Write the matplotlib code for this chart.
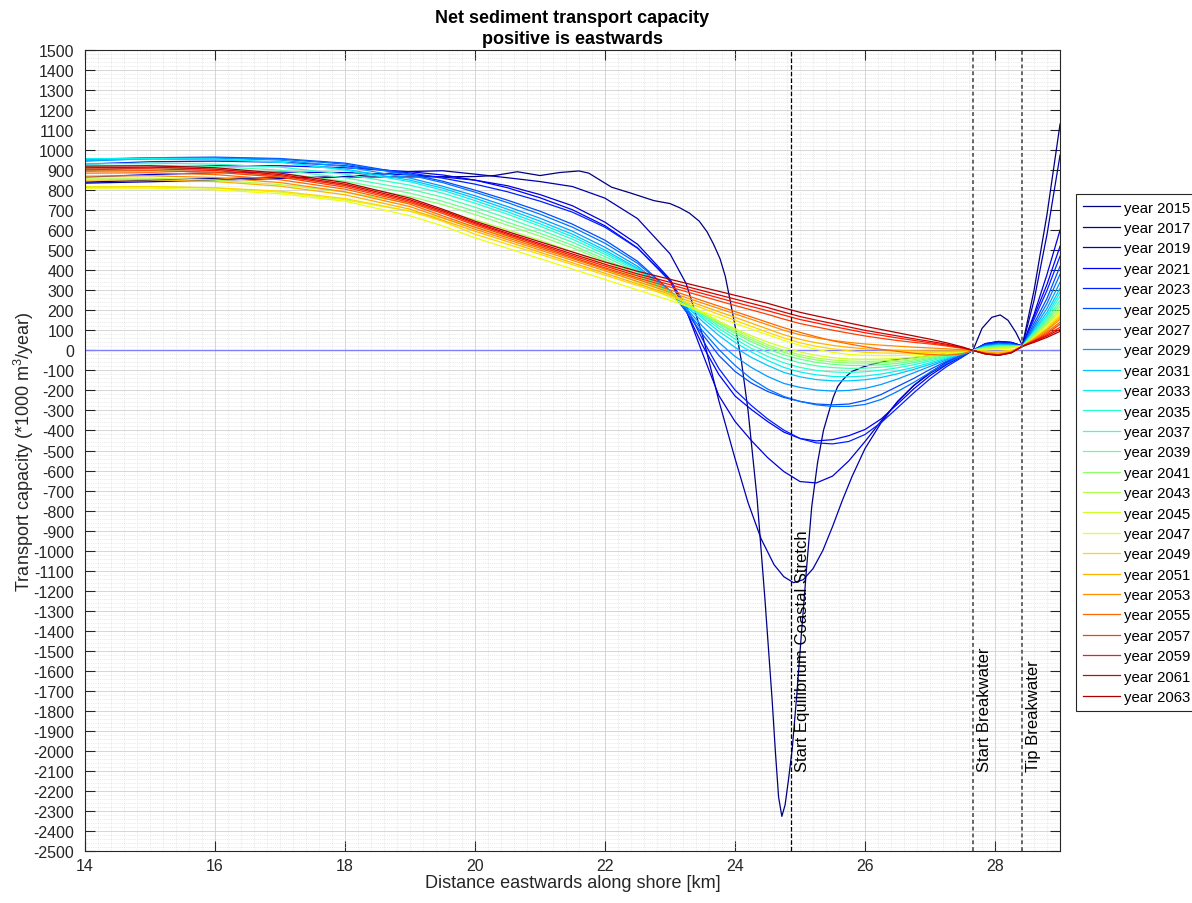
"""Net sediment transport capacity along the shore, one profile every two years."""

import matplotlib

matplotlib.use("Agg")  # headless backend
import matplotlib.pyplot as plt  # noqa: E402
import numpy as np  # noqa: E402
from matplotlib.ticker import MultipleLocator  # noqa: E402

plt.rcParams["font.family"] = ["Liberation Sans", "DejaVu Sans"]
plt.rcParams["axes.unicode_minus"] = False
plt.rcParams["mathtext.fontset"] = "custom"
plt.rcParams["mathtext.rm"] = "Liberation Sans"

YEARS = list(range(2015, 2064, 2))

# Alongshore positions [km] of the initial (2015) profile, which has sharp features
X_2015 = [14, 15, 16, 17, 18, 19, 20, 20.3, 20.65, 21.0, 21.3, 21.6, 21.75, 21.95,
          22.1, 22.4, 22.75, 23.0, 23.15, 23.3, 23.45, 23.57, 23.67, 23.77, 23.85,
          23.92, 24.03, 24.1, 24.2, 24.34, 24.46, 24.57, 24.62, 24.67, 24.72, 24.77,
          24.82, 24.88, 24.95, 25.02, 25.1, 25.18, 25.27, 25.36, 25.45, 25.51, 25.58,
          25.65, 25.72, 25.8, 25.97, 26.1, 26.34, 26.8, 27.2, 27.66,
          27.8, 27.95, 28.08, 28.2, 28.32, 28.42, 28.6, 28.8, 29]
Q_2015 = [840, 850, 858, 862, 866, 866, 868, 873, 892, 873, 888, 896, 885, 845,
          815, 785, 748, 733, 712, 685, 645, 592, 530, 457, 370,
          257, 72, -58, -300, -742, -1242, -1742, -2000, -2230, -2327, -2270,
          -2150, -1990, -1720, -1420, -1090, -780, -560, -400, -300, -235, -180,
          -150, -127, -105, -83, -70, -52, -35, -18, 0,
          110, 165, 177, 150, 90, 25, 300, 680, 1130]

# The 2017 profile, still carrying a deep trough
X_2017 = [14, 15, 16, 17, 18, 18.5, 19, 19.5, 20, 20.5, 21, 21.5, 22, 22.5, 23,
          23.25, 23.5, 23.75, 24, 24.2, 24.4, 24.6, 24.75, 24.9, 25.05, 25.2, 25.35,
          25.5, 25.65, 25.8, 26, 26.25, 26.5, 26.75, 27, 27.25, 27.5, 27.66, 27.85,
          28.05, 28.25, 28.42, 28.6, 28.8, 29]
Q_2017 = [835, 842, 850, 858, 868, 880, 893, 897, 880, 862, 843, 818, 760, 658, 482,
          332, 75, -250, -540, -760, -940, -1070, -1130, -1160, -1145, -1090, -1000,
          -880, -750, -630, -490, -360, -255, -175, -115, -66, -25, 0, 28,
          42, 38, 22, 250, 580, 975]

# Alongshore positions [km] shared by the later profiles
X_KM = [14, 15, 16, 17, 18, 19, 19.5, 20, 20.5, 21, 21.5, 22, 22.5, 23,
        23.25, 23.5, 23.75, 24, 24.25, 24.5, 24.75, 25, 25.25, 25.5, 25.75,
        26, 26.25, 26.5, 26.75, 27, 27.25, 27.5, 27.66, 27.85, 28.05, 28.25,
        28.42, 28.6, 28.8, 29]

# Transport capacity [1000 m3/year] per year on X_KM
Q_2019 = [865, 878, 887, 890, 888, 876, 866, 850, 822, 778,
          722, 640, 530, 355, 200, -15, -225, -355, -450, -535,
          -605, -655, -662, -628, -552, -455, -352, -257, -176, -110,
          -60, -22, 0, 32, 45, 40, 22, 180, 380, 600]
Q_2021 = [900, 913, 922, 922, 912, 892, 876, 850, 812, 762,
          702, 622, 512, 345, 195, 25, -120, -228, -295, -355,
          -408, -440, -452, -446, -426, -395, -342, -268, -192, -126,
          -72, -28, 0, 34, 44, 40, 22, 170, 330, 520]
Q_2023 = [930, 942, 945, 940, 922, 886, 860, 830, 792, 745,
          690, 615, 510, 352, 218, 55, -90, -198, -275, -342,
          -398, -440, -462, -467, -455, -420, -360, -287, -212, -142,
          -82, -33, 0, 33, 42, 38, 22, 155, 300, 470]
Q_2025 = [950, 962, 965, 958, 935, 880, 845, 800, 750, 695,
          630, 550, 445, 298, 192, 80, -25, -105, -163, -205,
          -235, -255, -268, -272, -268, -250, -220, -180, -140, -95,
          -55, -20, 0, 28, 36, 32, 20, 135, 260, 420]
Q_2027 = [945, 958, 962, 955, 930, 875, 838, 790, 738, 680,
          615, 535, 435, 298, 202, 98, 5, -75, -142, -193,
          -230, -255, -272, -280, -280, -270, -245, -205, -160, -110,
          -65, -25, 0, 25, 33, 30, 20, 120, 235, 380]
Q_2029 = [955, 962, 960, 950, 918, 860, 820, 772, 718, 660,
          595, 515, 420, 290, 210, 120, 40, -30, -85, -130,
          -165, -185, -198, -203, -200, -190, -170, -143, -112, -80,
          -48, -18, 0, 22, 30, 27, 20, 110, 210, 340]
Q_2031 = [950, 955, 952, 940, 905, 850, 810, 760, 705, 645,
          580, 500, 410, 290, 220, 145, 75, 15, -35, -75,
          -110, -132, -146, -152, -152, -147, -135, -117, -95, -70,
          -43, -17, 0, 20, 28, 26, 20, 100, 190, 310]
Q_2033 = [957, 958, 955, 940, 900, 842, 800, 748, 692, 632,
          568, 490, 405, 292, 228, 160, 95, 40, -8, -50,
          -85, -108, -122, -130, -132, -128, -118, -103, -85, -62,
          -38, -15, 0, 18, 25, 24, 20, 95, 175, 290]
Q_2035 = [930, 935, 930, 915, 880, 825, 785, 735, 680, 620,
          555, 480, 398, 292, 232, 170, 110, 57, 10, -30,
          -62, -85, -100, -108, -110, -107, -99, -87, -72, -53,
          -33, -13, 0, 16, 22, 22, 20, 90, 165, 270]
Q_2037 = [920, 925, 918, 900, 862, 805, 765, 715, 660, 602,
          540, 468, 390, 290, 235, 178, 122, 72, 28, -10,
          -40, -62, -77, -86, -90, -89, -84, -75, -62, -46,
          -28, -11, 0, 14, 20, 20, 20, 85, 155, 250]
Q_2039 = [910, 912, 905, 885, 845, 785, 745, 695, 640, 585,
          525, 455, 380, 288, 237, 183, 132, 85, 43, 7,
          -22, -44, -60, -70, -75, -75, -72, -65, -54, -40,
          -25, -10, 0, 12, 18, 19, 20, 80, 145, 235]
Q_2041 = [900, 900, 890, 868, 828, 768, 728, 678, 625, 570,
          512, 445, 372, 285, 237, 186, 138, 93, 53, 18,
          -10, -32, -48, -58, -63, -64, -62, -56, -47, -35,
          -22, -9, 0, 10, 16, 18, 20, 75, 138, 220]
Q_2043 = [860, 860, 850, 828, 790, 735, 698, 652, 602, 550,
          493, 430, 360, 280, 236, 190, 145, 102, 63, 28,
          0, -22, -38, -48, -53, -55, -53, -48, -40, -30,
          -19, -8, 0, 8, 14, 16, 20, 70, 130, 205]
Q_2045 = [818, 818, 810, 790, 752, 695, 660, 615, 568, 518,
          465, 405, 340, 265, 225, 185, 145, 108, 73, 42,
          15, -8, -25, -36, -43, -45, -44, -40, -34, -26,
          -16, -7, 0, 6, 12, 15, 20, 68, 125, 195]
Q_2047 = [810, 810, 802, 782, 745, 672, 622, 562, 510, 458,
          406, 354, 302, 250, 222, 193, 164, 135, 106, 78,
          50, 25, 5, -10, -20, -25, -27, -26, -22, -17,
          -11, -5, 0, 2, 8, 12, 20, 62, 115, 185]
Q_2049 = [815, 818, 812, 795, 758, 695, 645, 580, 530, 480,
          428, 376, 324, 272, 241, 210, 180, 150, 120, 90,
          62, 38, 20, 8, -2, -10, -13, -14, -13, -10,
          -7, -3, 0, -4, -6, 0, 20, 60, 110, 175]
Q_2051 = [850, 852, 843, 820, 777, 705, 650, 595, 543, 490,
          437, 385, 332, 280, 251, 222, 193, 165, 136, 107,
          78, 55, 38, 25, 15, 8, 3, 0, -2, -3,
          -3, -2, 0, -8, -12, -5, 20, 58, 105, 165]
Q_2053 = [870, 872, 863, 838, 792, 718, 662, 605, 553, 501,
          449, 397, 344, 290, 263, 236, 209, 182, 155, 128,
          100, 78, 62, 50, 40, 32, 26, 21, 16, 12,
          8, 3, 0, -12, -18, -8, 20, 55, 100, 155]
Q_2055 = [885, 887, 878, 852, 805, 730, 672, 615, 562, 510,
          458, 406, 354, 302, 275, 248, 221, 194, 167, 140,
          113, 90, 68, 48, 32, 18, 5, -5, -14, -21,
          -24, -17, 0, -15, -22, -10, 20, 50, 92, 140]
Q_2057 = [895, 897, 890, 865, 815, 738, 684, 625, 572, 518,
          465, 412, 362, 316, 293, 270, 247, 224, 202, 180,
          156, 134, 117, 101, 86, 72, 60, 49, 40, 32,
          22, 10, 0, -15, -22, -10, 20, 48, 85, 130]
Q_2059 = [905, 907, 898, 872, 823, 745, 691, 632, 579, 526,
          473, 421, 372, 328, 306, 284, 262, 240, 219, 198,
          176, 154, 137, 120, 104, 88, 75, 62, 50, 38,
          26, 12, 0, -16, -24, -12, 20, 47, 78, 115]
Q_2061 = [912, 915, 905, 878, 830, 752, 698, 638, 585, 533,
          481, 430, 382, 340, 319, 298, 277, 256, 235, 214,
          191, 169, 151, 134, 117, 100, 86, 72, 58, 45,
          31, 14, 0, -18, -25, -12, 20, 45, 72, 105]
Q_2063 = [920, 922, 912, 885, 838, 760, 705, 645, 593, 542,
          491, 441, 395, 355, 335, 315, 295, 275, 255, 235,
          212, 190, 172, 155, 137, 120, 104, 88, 72, 56,
          38, 17, 0, -18, -25, -12, 20, 40, 65, 95]

LATER_PROFILES = [Q_2019, Q_2021, Q_2023, Q_2025, Q_2027, Q_2029, Q_2031, Q_2033,
                  Q_2035, Q_2037, Q_2039, Q_2041, Q_2043, Q_2045, Q_2047, Q_2049,
                  Q_2051, Q_2053, Q_2055, Q_2057, Q_2059, Q_2061, Q_2063]

# Reference locations along the shore [km]
MARKER_KM = [24.86, 27.66, 28.41]
MARKER_NAMES = ["Start Equilibrium Coastal Stretch", "Start Breakwater", "Tip Breakwater"]


def main() -> None:
    fig = plt.figure(figsize=(11.92, 9.04), dpi=100)
    ax = fig.add_axes([0.0713, 0.0575, 0.8180, 0.8861])

    ax.axhline(0, color="#7f7fff", lw=1.0, zorder=1.5)

    colors = plt.cm.jet(np.linspace(0.0, 0.96, len(YEARS)))
    xs_all = [X_2015, X_2017] + [X_KM] * len(LATER_PROFILES)
    ys_all = [Q_2015, Q_2017] + LATER_PROFILES
    for year, xs, ys, c in zip(YEARS, xs_all, ys_all, colors):
        ax.plot(xs, ys, color=c, lw=0.9, label=f"year {year}", zorder=2)

    # vertical markers with labels reading upwards
    for i, (km, name) in enumerate(zip(MARKER_KM, MARKER_NAMES)):
        if i == 0:
            ax.axvline(km, color="black", ls="--", lw=0.9, zorder=3)
        else:
            ax.axvline(km, color="#666666", ls="--", lw=1.4, dashes=(2, 1.5), zorder=3)
        ax.text(km + 0.06, -2100, name, rotation=90, ha="left", va="bottom",
                fontsize=12, color="black", zorder=4)

    ax.set_xlim(14, 29)
    ax.set_ylim(-2500, 1500)
    ax.set_xticks(range(14, 29, 2))
    ax.set_yticks(range(-2500, 1501, 100))
    ax.xaxis.set_minor_locator(MultipleLocator(0.2))
    ax.yaxis.set_minor_locator(MultipleLocator(20))
    ax.tick_params(which="major", direction="in", length=7, width=0.8,
                   top=True, right=True, labelsize=11.5, colors="#262626")
    ax.tick_params(axis="y", which="major", pad=8)
    ax.tick_params(axis="x", which="major", pad=5)
    ax.tick_params(which="minor", length=0)
    ax.grid(which="major", color="#d0d0d0", lw=0.6, ls="-")
    ax.grid(which="minor", color="#d8d8d8", lw=0.5, ls=":")
    ax.set_axisbelow(True)
    for spine in ax.spines.values():
        spine.set_color("#262626")
        spine.set_linewidth(0.8)

    ax.set_xlabel("Distance eastwards along shore [km]", fontsize=13, labelpad=1,
                  color="#262626")
    ax.set_ylabel("Transport capacity (*1000 m$^3$/year)", fontsize=13, labelpad=-2,
                  color="#262626")
    ax.set_title("Net sediment transport capacity\npositive is eastwards",
                 fontsize=13, fontweight="bold", pad=5, linespacing=1.3)

    leg = ax.legend(loc="upper left", bbox_to_anchor=(1076 / 1192, 1 - 195 / 904),
                    bbox_transform=fig.transFigure, fontsize=10.7, frameon=True,
                    fancybox=False, edgecolor="#262626", framealpha=1,
                    borderaxespad=0, handlelength=2.5, handletextpad=0.25,
                    labelspacing=0.43, borderpad=0.45)
    leg.get_frame().set_linewidth(0.8)

    fig.savefig("out.png", dpi=100)
    plt.close(fig)


if __name__ == "__main__":
    main()
